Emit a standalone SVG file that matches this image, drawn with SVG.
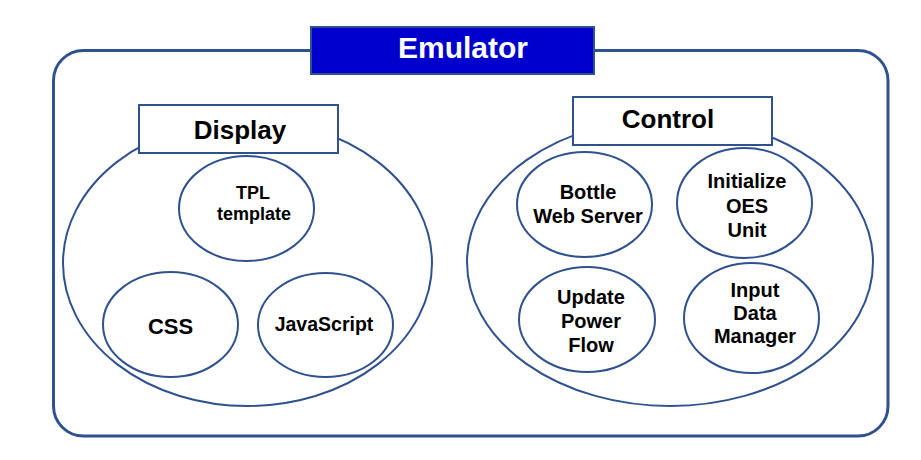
<svg xmlns="http://www.w3.org/2000/svg" width="921" height="460" viewBox="0 0 921 460">
<style>
.ln{fill:none;stroke:#2F528F;stroke-width:2}
.nd{fill:#fff;stroke:#2F528F;stroke-width:2}
text{font-family:"Liberation Sans",Arial,sans-serif;font-weight:bold;fill:#000;text-anchor:middle}
.s{font-size:18px}
.m{font-size:20px}
</style>
<rect width="921" height="460" fill="#fff"/>
<g id="emulator">
<rect x="53.5" y="50.5" width="834.5" height="385.5" rx="30" fill="none" stroke="#2F528F" stroke-width="3"/>
<rect x="311" y="27" width="283" height="47" fill="#0000CC" stroke="#2F528F" stroke-width="2"/>
<text x="463" y="58" style="font-size:30px;fill:#fff">Emulator</text>
</g>
<g id="display">
<ellipse class="ln" cx="247.5" cy="263" rx="184.5" ry="143"/>
<rect class="nd" x="139" y="105" width="199" height="48"/>
<text x="240" y="139" style="font-size:26px">Display</text>
</g>
<g id="tpl">
<ellipse class="nd" cx="246.5" cy="208.5" rx="67.5" ry="52.5"/>
<text class="s" x="253" y="199">TPL</text>
<text class="s" x="254" y="220">template</text>
</g>
<g id="css">
<ellipse class="nd" cx="170.5" cy="324.5" rx="67.5" ry="52.5"/>
<text x="170.5" y="334" style="font-size:22px">CSS</text>
</g>
<g id="javascript">
<ellipse class="nd" cx="325.5" cy="325" rx="67.5" ry="52"/>
<text x="324" y="331" style="font-size:19.5px">JavaScript</text>
</g>
<g id="control">
<ellipse class="ln" cx="670" cy="262" rx="203" ry="144"/>
<rect class="nd" x="573" y="97" width="199" height="48"/>
<text x="668" y="128" style="font-size:26px">Control</text>
</g>
<g id="bottle">
<ellipse class="nd" cx="584.5" cy="204.5" rx="67.5" ry="52.5"/>
<text class="m" x="588" y="199">Bottle</text>
<text class="m" x="588" y="223">Web Server</text>
</g>
<g id="initialize">
<ellipse class="nd" cx="744.5" cy="203" rx="67.5" ry="55"/>
<text class="m" x="747" y="188">Initialize</text>
<text class="m" x="747" y="213">OES</text>
<text class="m" x="747" y="237">Unit</text>
</g>
<g id="update">
<ellipse class="nd" cx="587" cy="319.5" rx="68" ry="52.5"/>
<text class="m" x="591" y="304">Update</text>
<text class="m" x="591" y="328">Power</text>
<text class="m" x="591" y="352">Flow</text>
</g>
<g id="input">
<ellipse class="nd" cx="751.5" cy="318" rx="67.5" ry="55"/>
<text class="m" x="755" y="297">Input</text>
<text class="m" x="755" y="320">Data</text>
<text class="m" x="755" y="343">Manager</text>
</g>
<g id="connectors"></g>
</svg>
